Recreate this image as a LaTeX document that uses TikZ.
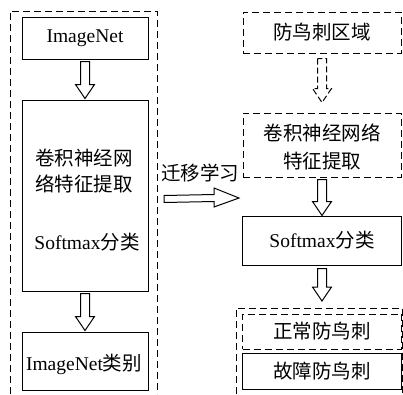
\documentclass[tikz,border=0pt]{standalone}
\usepackage{fontspec}
\setmainfont{Liberation Serif}
\newfontfamily\cjk{Noto Sans CJK SC}
\usetikzlibrary{calc}
\newcommand\fs{\fontsize{19.5}{23}\selectfont}
\newcommand\zh[1]{{\cjk #1}}
% #1 style, #2 start point, #3 end point, #4 start gap, #5 tip gap
\newcommand\dnarrow[5]{%
  \draw[#1] ($#2+(-4.5,#4)$) -- ($#3+(-4.5,-#5-14)$) -- ($#3+(-9.5,-#5-14)$)
    -- ($#3+(0,-#5)$) -- ($#3+(9.5,-#5-14)$) -- ($#3+(4.5,-#5-14)$)
    -- ($#2+(4.5,#4)$) -- cycle;}
\begin{document}
\begin{tikzpicture}[x=1pt,y=-1pt,
  box/.style={draw, line width=1pt, inner sep=0pt, font=\fs},
  dbox/.style={box, dash pattern=on 7pt off 4pt},
  lbl/.style={inner sep=0pt, font=\fs},
  frame/.style={draw, line width=1pt, dash pattern=on 7pt off 4pt},
  hollow/.style={draw, line width=1pt, fill=white, line join=miter},
  dhollow/.style={hollow, dash pattern=on 6pt off 3pt},
]
\useasboundingbox (0,0) rectangle (403,394);

% outer dashed frames
\draw[frame] (10,394) -- (10,11) -- (157,11) -- (157,394);
\draw[frame] (236,394) -- (236,308) -- (402.5,308) -- (402.5,394);
\coordinate (frameR) at (322,308);

% left column
\node[box, minimum width=126pt, minimum height=42pt] (imgnet) at (85,38) {ImageNet};
\node[box, minimum width=126pt, minimum height=191pt] (cnnL) at (85,195.5) {};
\node[lbl] (cnnLt1) at (84,158) {\zh{卷积神经网}};
\node[lbl] (cnnLt2) at (84,184) {\zh{络特征提取}};
\node[lbl] (smL) at (87,242) {Softmax\zh{分类}};
\node[box, minimum width=126pt, minimum height=58pt] (clsL) at (85,361) {};
\node[lbl] (clsLt) at (84,364) {ImageNet\zh{类别}};

% right column
\node[dbox, minimum width=158pt, minimum height=41pt] (region) at (322,32.5) {\zh{防鸟刺区域}};
\node[dbox, minimum width=158pt, minimum height=64pt] (cnnR) at (322,145) {};
\node[lbl] (cnnRt1) at (322,133) {\zh{卷积神经网络}};
\node[lbl] (cnnRt2) at (322,161) {\zh{特征提取}};
\node[box, minimum width=159pt, minimum height=49pt] (smR) at (322,240.5) {Softmax\zh{分类}};
\node[dbox, minimum width=159pt, minimum height=35pt] (normal) at (322,331.5) {\zh{正常防鸟刺}};
\node[box, minimum width=159pt, minimum height=36pt] (fault) at (322,371) {\zh{故障防鸟刺}};

% vertical hollow arrows
\dnarrow{hollow}{(imgnet.south)}{(cnnL.north)}{2}{1}
\dnarrow{hollow}{(cnnL.south)}{(clsL.north)}{2}{1}
\dnarrow{dhollow}{(region.south)}{(cnnR.north)}{5}{10}
\dnarrow{hollow}{(cnnR.south)}{(smR.north)}{2}{0}
\dnarrow{hollow}{(smR.south)}{(frameR)}{3}{7}

% transfer arrow
\coordinate (tstart) at (164,199);
\coordinate (tend) at (239,198);
\draw[hollow] ($(tstart)+(0,-3.5)$) -- ($(tend)+(-25,-3.5)$) -- ($(tend)+(-25,-10)$)
  -- (tend) -- ($(tend)+(-25,9)$) -- ($(tend)+(-25,3.5)$) -- ($(tstart)+(0,3.5)$) -- cycle;
\node[lbl] (transfer) at (200,173) {\zh{迁移学习}};
\end{tikzpicture}
\end{document}
